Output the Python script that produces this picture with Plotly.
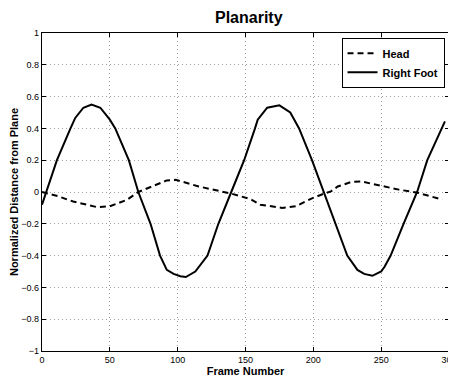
import plotly.graph_objects as go

foot_x = [0, 3, 11, 21, 24.5, 30.5, 36.5, 43, 50, 54, 64, 71, 80, 87, 92, 97, 102, 106, 113,
          122, 130, 139.5, 146, 149, 157, 159, 166, 175, 183, 189.5, 199, 207.5, 216.5, 225,
          232.5, 237.5, 243.5, 250, 252.5, 257, 266.5, 276.5, 284, 297]
foot_y = [-0.08, 0.0, 0.2, 0.4, 0.466, 0.53, 0.55, 0.53, 0.455, 0.4, 0.2, 0.0, -0.2, -0.4,
          -0.49, -0.515, -0.53, -0.535, -0.5, -0.4, -0.2, 0.0, 0.14, 0.2, 0.4, 0.455, 0.53,
          0.545, 0.5, 0.4, 0.2, 0.0, -0.2, -0.4, -0.49, -0.515, -0.527, -0.5, -0.47, -0.4,
          -0.2, 0.0, 0.2, 0.444]

head_x = [0, 12, 23, 40.5, 50, 62.5, 71, 80, 92, 98.5, 115.5, 139.5, 146, 154, 161, 177,
          187, 199, 208, 213, 218, 228, 235, 250, 263, 277, 295]
head_y = [0.0, -0.027, -0.06, -0.095, -0.09, -0.05, 0.0, 0.03, 0.073, 0.077, 0.035, -0.01,
          -0.028, -0.046, -0.08, -0.1, -0.09, -0.04, -0.01, 0.004, 0.035, 0.063, 0.067, 0.04,
          0.015, -0.005, -0.048]

x_ticks = [0, 50, 100, 150, 200, 250, 300]
y_ticks = [-1, -0.8, -0.6, -0.4, -0.2, 0, 0.2, 0.4, 0.6, 0.8, 1]

FONT = "Liberation Sans, Arial, Helvetica, sans-serif"

fig = go.Figure()
fig.add_trace(go.Scatter(x=head_x, y=head_y, mode="lines", name="Head",
                         line=dict(color="black", width=2, dash="6px,4px")))
fig.add_trace(go.Scatter(x=foot_x, y=foot_y, mode="lines", name="Right Foot",
                         line=dict(color="black", width=2)))

axis_common = dict(showline=True, linecolor="black", linewidth=1.3, mirror="ticks",
                   ticks="inside", ticklen=4, tickcolor="black", showgrid=True,
                   gridcolor="#a0a0a0", griddash="1px,3px", gridwidth=1, zeroline=False,
                   automargin=False, ticklabeloverflow="allow",
                   tickfont=dict(family=FONT, size=9, color="black"))

fig.update_xaxes(range=[0, 300], tickvals=x_ticks,
                 title=dict(text="Frame Number", standoff=0,
                            font=dict(family=FONT, size=11, color="black", weight="bold")),
                 **axis_common)
fig.update_yaxes(range=[-1, 1], tickvals=y_ticks,
                 title=dict(text="Normalized Distance from Plane", standoff=0,
                            font=dict(family=FONT, size=11, color="black", weight="bold")),
                 **axis_common)

# page body has ~8px default margin, so figure is sized to end at the window edge
fig.update_layout(
    width=448, height=369,
    margin=dict(l=34, r=7, t=25, b=26),
    paper_bgcolor="white", plot_bgcolor="white",
    title=dict(text="Planarity", x=0.5375, xanchor="center", y=0.9756, yanchor="middle",
               font=dict(family=FONT, size=16, color="black", weight="bold")),
    legend=dict(x=0.989, y=0.985, xanchor="right", yanchor="top",
                bgcolor="white", bordercolor="black", borderwidth=1,
                font=dict(family=FONT, size=11, color="black", weight="bold"),
                tracegroupgap=0, itemwidth=30),
    showlegend=True,
)

fig.write_html("out.html")
